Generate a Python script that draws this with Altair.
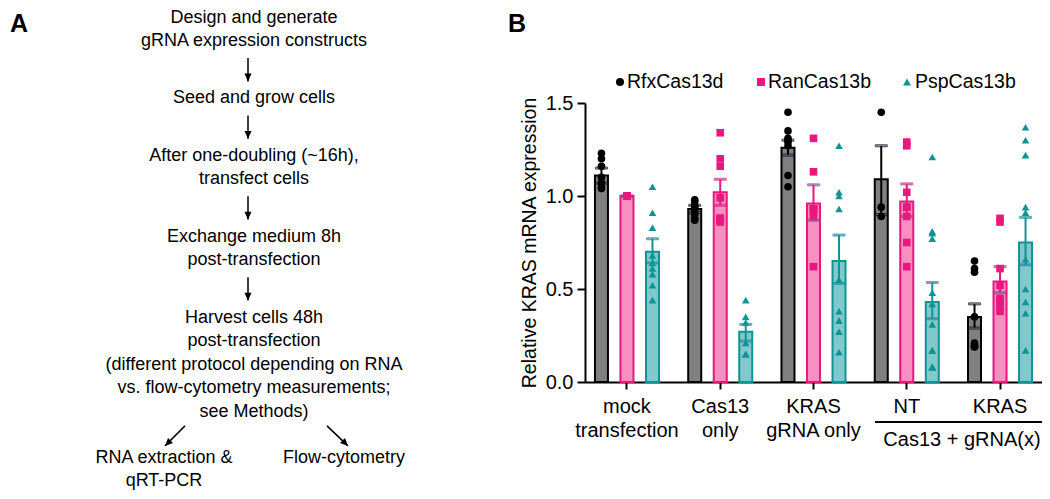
import altair as alt
import pandas as pd

FONT = "Liberation Sans"

# ---------------- Panel B data ----------------
groups = ["mock|transfection", "Cas13|only", "KRAS|gRNA only", "NT", "KRAS"]
series = ["RfxCas13d", "RanCas13b", "PspCas13b"]

rfx_mean = [1.11, 0.93, 1.26, 1.09, 0.35]
rfx_lo = [1.07, 0.91, 1.22, 0.90, 0.29]
rfx_hi = [1.15, 0.95, 1.30, 1.27, 0.42]

ran_mean = [1.00, 1.02, 0.96, 0.97, 0.54]
ran_lo = [1.00, 0.95, 0.87, 0.89, 0.48]
ran_hi = [1.00, 1.09, 1.06, 1.065, 0.62]

psp_mean = [0.70, 0.27, 0.65, 0.43, 0.75]
psp_lo = [0.64, 0.22, 0.53, 0.34, 0.63]
psp_hi = [0.77, 0.31, 0.79, 0.535, 0.885]

rfx_points = [
    [1.23, 1.20, 1.16, 1.10, 1.07, 1.05, 1.04],
    [0.98, 0.97, 0.95, 0.94, 0.92, 0.90, 0.88, 0.87],
    [1.45, 1.35, 1.31, 1.30, 1.29, 1.27, 1.11, 1.05],
    [1.45, 0.94, 0.89],
    [0.65, 0.61, 0.59, 0.35, 0.21, 0.19, 0.19, 0.19, 0.20],
]
ran_points = [
    [1.00, 1.00, 1.00, 1.00, 1.00, 1.00],
    [1.34, 1.20, 1.16, 0.99, 0.88, 0.87, 0.87, 0.86, 0.88],
    [1.31, 1.13, 0.93, 0.93, 0.93, 0.89, 0.62],
    [1.29, 1.27, 1.02, 0.94, 0.94, 0.89, 0.75, 0.62],
    [0.88, 0.86, 0.61, 0.52, 0.45, 0.43, 0.41, 0.38],
]
psp_points = [
    [1.05, 0.91, 0.83, 0.68, 0.64, 0.61, 0.58, 0.52, 0.44],
    [0.44, 0.35, 0.32, 0.21, 0.15, 0.15],
    [1.27, 1.02, 1.00, 0.93, 0.55, 0.38, 0.33, 0.27, 0.16],
    [1.21, 0.81, 0.80, 0.77, 0.48, 0.42, 0.31, 0.17, 0.17, 0.08, 0.08, 0.08],
    [1.37, 1.30, 1.22, 0.94, 0.91, 0.66, 0.50, 0.43, 0.37, 0.17],
]

group_header = "Cas13 + gRNA(x)"

# ---------------- Panel A text ----------------
steps = [
    ["Design and generate", "gRNA expression constructs"],
    ["Seed and grow cells"],
    ["After one-doubling (~16h),", "transfect cells"],
    ["Exchange medium 8h", "post-transfection"],
    ["Harvest cells 48h", "post-transfection",
     "(different protocol depending on RNA",
     "vs. flow-cytometry measurements;", "see Methods)"],
]
out_left = ["RNA extraction &", "qRT-PCR"]
out_right = ["Flow-cytometry"]
panel_labels = ["A", "B"]

# ---------------- styles ----------------
dark = ["#000000", "#E9177E", "#0E9494"]
light = ["#808080", "#F78FC0", "#80C8CA"]
shapes = ["circle", "square", "triangle-up"]

# ---------------- tables ----------------
means = [rfx_mean, ran_mean, psp_mean]
los = [rfx_lo, ran_lo, psp_lo]
his = [rfx_hi, ran_hi, psp_hi]
pts = [rfx_points, ran_points, psp_points]

bar_rows, pt_rows = [], []
for si, s in enumerate(series):
    for gi, g in enumerate(groups):
        bar_rows.append(dict(group=g, series=s, mean=means[si][gi],
                             lo=los[si][gi], hi=his[si][gi]))
        for v in pts[si][gi]:
            pt_rows.append(dict(group=g, series=s, value=v))
bars_df = pd.DataFrame(bar_rows)
pts_df = pd.DataFrame(pt_rows)

# layout of plot in page pixels (plot area of panel B)
PX0, PX1, PY0, PY1 = 585, 1042, 103, 382
W, H = PX1 - PX0, PY1 - PY0

color_scale = alt.Scale(domain=series, range=dark)
shape_scale = alt.Scale(domain=series, range=shapes)

x_enc = alt.X("group:N", sort=groups,
              scale=alt.Scale(paddingInner=0.1, paddingOuter=0),
              axis=alt.Axis(title=None, labelAngle=0,
                            labelExpr="split(datum.label, '|')",
                            labelFontSize=20, labelFont=FONT, labelColor="black",
                            labelLineHeight=24, labelBaseline="top", labelPadding=7,
                            tickSize=7, tickWidth=2, tickColor="black",
                            domainWidth=2, domainColor="black"))
xo_enc = alt.XOffset("series:N", sort=series,
                     scale=alt.Scale(paddingInner=0.49, paddingOuter=0.39))
y_scale = alt.Scale(domain=[0, 1.5], nice=False)

base = alt.Chart(bars_df)
bars = base.mark_bar(strokeWidth=2).encode(
    x=x_enc, xOffset=xo_enc,
    y=alt.Y("mean:Q", scale=y_scale,
            axis=alt.Axis(title="Relative KRAS mRNA expression", values=[0, 0.5, 1.0, 1.5],
                          format=".1f", labelFontSize=20, labelFont=FONT, labelColor="black",
                          titleFont=FONT, titleFontSize=19.5, titleFontWeight="normal",
                          titleColor="black", titlePadding=6, labelPadding=4,
                          tickSize=8, tickWidth=2, tickColor="black",
                          domainWidth=2, domainColor="black", grid=False)),
    fill=alt.Fill("series:N", scale=alt.Scale(domain=series, range=light), legend=None),
    stroke=alt.Stroke("series:N", scale=alt.Scale(domain=series, range=dark), legend=None),
)
err = base.mark_rule(strokeWidth=2).encode(
    x=alt.X("group:N", sort=groups), xOffset=alt.XOffset("series:N", sort=series),
    y=alt.Y("lo:Q", scale=y_scale), y2="hi:Q",
    stroke=alt.Stroke("series:N", legend=None),
)
cap_lo = base.mark_tick(thickness=2, size=12).encode(
    x=alt.X("group:N", sort=groups), xOffset=alt.XOffset("series:N", sort=series),
    y=alt.Y("lo:Q", scale=y_scale),
    stroke=alt.Stroke("series:N", legend=None),
)
cap_hi = base.mark_tick(thickness=2, size=12).encode(
    x=alt.X("group:N", sort=groups), xOffset=alt.XOffset("series:N", sort=series),
    y=alt.Y("hi:Q", scale=y_scale),
    stroke=alt.Stroke("series:N", legend=None),
)
points = alt.Chart(pts_df).mark_point(filled=True, size=58, opacity=1).encode(
    x=alt.X("group:N", sort=groups), xOffset=alt.XOffset("series:N", sort=series),
    y=alt.Y("value:Q", scale=y_scale),
    color=alt.Color("series:N", scale=color_scale, legend=None),
    shape=alt.Shape("series:N", scale=shape_scale, legend=None),
)
data_layer = alt.layer(bars, err, cap_lo, cap_hi, points)

# ---------------- annotation layer (page-pixel coordinate system) ----------------
FLOW_X, ARROW_X = 254, 248
FIRST_Y, LINE, GAP = 17.5, 23.6, 57.3
text_rows, arrow_rows, letter_rows = [], [], []
y = FIRST_Y
for bi, block in enumerate(steps):
    for li, t in enumerate(block):
        text_rows.append(dict(x=FLOW_X, y=y, text=t))
        if li < len(block) - 1:
            y += LINE
    if bi < len(steps) - 1:
        arrow_rows.append(dict(x=ARROW_X, y=y + 17, x2=ARROW_X, y2=y + GAP - 17, angle=0))
        y += GAP
last_y = y
arrow_rows.append(dict(x=185, y=last_y + 14, x2=165, y2=last_y + 34, angle=45))
arrow_rows.append(dict(x=327, y=last_y + 14, x2=348, y2=last_y + 34, angle=315))
for li, t in enumerate(out_left):
    text_rows.append(dict(x=164, y=last_y + 46 + li * 23, text=t))
for li, t in enumerate(out_right):
    text_rows.append(dict(x=344, y=last_y + 46 + li * 23, text=t))
# panel letters
letter_rows.append(dict(x=19, y=23.5, text=panel_labels[0]))
letter_rows.append(dict(x=517, y=23.5, text=panel_labels[1]))
# group header under the x axis
header_df = pd.DataFrame([dict(x=962, y=440, text=group_header)])
bracket_df = pd.DataFrame([dict(x=875, y=422, x2=1043)])
# legend (manual, above the plot)
legend_df = pd.DataFrame(dict(series=series, sx=[620, 761, 907], lx=[627, 768, 915],
                              y=[82, 82, 82]))

text_df = pd.DataFrame(text_rows)
letter_df = pd.DataFrame(letter_rows)
arrow_df = pd.DataFrame(arrow_rows)

ax = alt.Scale(domain=[PX0, PX1], nice=False, zero=False)
ay = alt.Scale(domain=[PY1, PY0], nice=False, zero=False)

texts = alt.Chart(text_df).mark_text(font=FONT, fontSize=18, align="center",
                                     baseline="middle", color="black").encode(
    x=alt.X("x:Q", scale=ax, axis=None),
    y=alt.Y("y:Q", scale=ay, axis=None),
    text="text:N",
)
header = alt.Chart(header_df).mark_text(font=FONT, fontSize=20, align="center",
                                        baseline="middle", color="black").encode(
    x=alt.X("x:Q", scale=ax, axis=None),
    y=alt.Y("y:Q", scale=ay, axis=None),
    text="text:N",
)
letters = alt.Chart(letter_df).mark_text(font=FONT, fontSize=25, fontWeight="bold",
                                         align="center", baseline="middle",
                                         color="black").encode(
    x=alt.X("x:Q", scale=ax, axis=None),
    y=alt.Y("y:Q", scale=ay, axis=None),
    text="text:N",
)
shafts = alt.Chart(arrow_df).mark_rule(color="black", strokeWidth=1.5).encode(
    x=alt.X("x:Q", scale=ax, axis=None), x2="x2:Q",
    y=alt.Y("y:Q", scale=ay, axis=None), y2="y2:Q",
)
heads = alt.Chart(arrow_df).mark_point(
    shape="M0,0 L-0.5,-1.1 L0.5,-1.1 Z", filled=True, size=200, color="black",
    opacity=1, strokeWidth=0).encode(
    x=alt.X("x2:Q", scale=ax, axis=None),
    y=alt.Y("y2:Q", scale=ay, axis=None),
    angle=alt.Angle("angle:Q", scale=None),
)
bracket = alt.Chart(bracket_df).mark_rule(color="black", strokeWidth=2).encode(
    x=alt.X("x:Q", scale=ax, axis=None), x2="x2:Q",
    y=alt.Y("y:Q", scale=ay, axis=None),
)
leg_sym = alt.Chart(legend_df).mark_point(filled=True, size=64, opacity=1).encode(
    x=alt.X("sx:Q", scale=ax, axis=None),
    y=alt.Y("y:Q", scale=ay, axis=None),
    color=alt.Color("series:N", scale=color_scale, legend=None),
    shape=alt.Shape("series:N", scale=shape_scale, legend=None),
)
leg_txt = alt.Chart(legend_df).mark_text(font=FONT, fontSize=19.5, align="left",
                                         baseline="middle", color="black").encode(
    x=alt.X("lx:Q", scale=ax, axis=None),
    y=alt.Y("y:Q", scale=ay, axis=None),
    text="series:N",
)
annot_layer = alt.layer(texts, header, letters, shafts, heads, bracket, leg_sym, leg_txt)

chart = alt.layer(data_layer, annot_layer).resolve_scale(
    x="independent", y="independent"
).properties(
    width=W, height=H,
    padding={"left": PX0 - 8, "top": PY0 - 8, "right": 1034 - (PX0 - 8) - W,
             "bottom": 483 - (PY0 - 8) - H},
    autosize=alt.AutoSizeParams(type="none"),
    background="white",
).configure_view(stroke=None)

chart.save("out.html", embed_options={"renderer": "svg", "actions": False})
